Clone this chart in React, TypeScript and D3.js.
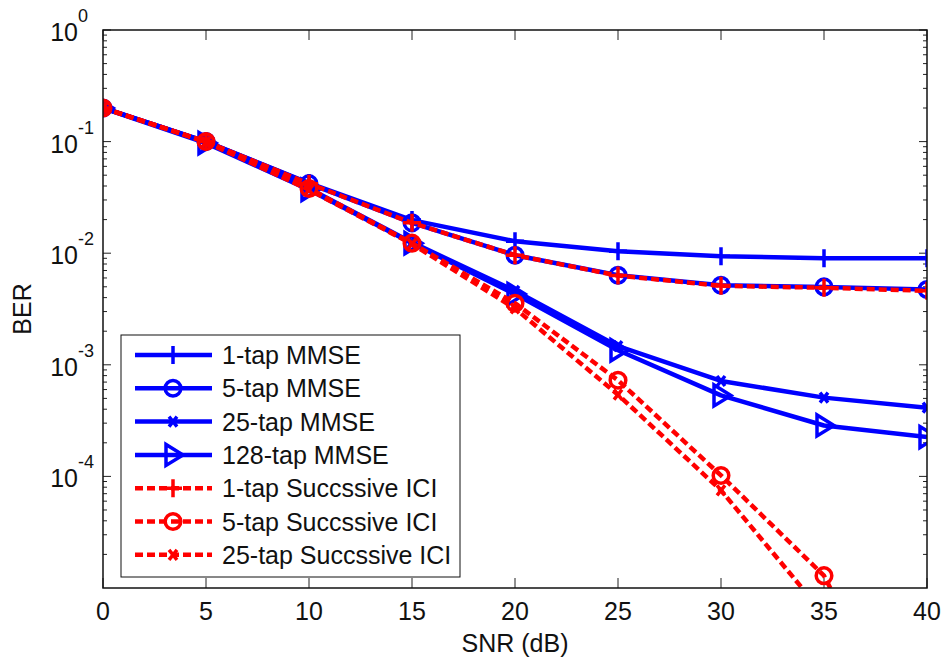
import React from 'react';
import * as d3 from 'd3';

const snr = [0, 5, 10, 15, 20, 25, 30, 35, 40];
const xTicks = [0, 5, 10, 15, 20, 25, 30, 35, 40];
const yExponents = [0, -1, -2, -3, -4];

const mmse1 = [0.2, 0.1, 0.0425, 0.0198, 0.0128, 0.0104, 0.0094, 0.009, 0.009];
const mmse5 = [0.2, 0.1, 0.042, 0.0187, 0.0096, 0.00635, 0.00516, 0.00499, 0.00472];
const mmse25 = [0.2, 0.099, 0.038, 0.0125, 0.0046, 0.00147, 0.000716, 0.000508, 0.000413];
const mmse128 = [0.2, 0.097, 0.037, 0.0123, 0.0043, 0.00135, 0.000532, 0.000286, 0.000225];
const sic1 = [0.2, 0.1, 0.042, 0.0187, 0.0096, 0.0063, 0.0051, 0.0049, 0.0046];
const sic5 = [0.2, 0.1, 0.038, 0.0123, 0.00356, 0.000726, 0.000102, 0.0000129, 0.0000002];
const sic25 = [0.2, 0.099, 0.037, 0.0121, 0.0032, 0.00054, 0.000075, 0.0000058, 0.0000001];

const series = [
  { name: '1-tap MMSE', values: mmse1, color: '#0000ff', dashed: false, marker: 'plus' },
  { name: '5-tap MMSE', values: mmse5, color: '#0000ff', dashed: false, marker: 'circle' },
  { name: '25-tap MMSE', values: mmse25, color: '#0000ff', dashed: false, marker: 'x' },
  { name: '128-tap MMSE', values: mmse128, color: '#0000ff', dashed: false, marker: 'triangle' },
  { name: '1-tap Succssive ICI', values: sic1, color: '#ff0000', dashed: true, marker: 'plus' },
  { name: '5-tap Succssive ICI', values: sic5, color: '#ff0000', dashed: true, marker: 'circle' },
  { name: '25-tap Succssive ICI', values: sic25, color: '#ff0000', dashed: true, marker: 'x' },
];

const W = 944;
const H = 661;
const margin = { left: 103, right: 17, top: 30, bottom: 73 };
const font = '"Liberation Sans", Arial, sans-serif';

const Marker = ({ type, x, y, color }: { type: string; x: number; y: number; color: string }) => {
  const sw = 3.5;
  if (type === 'plus') {
    return (
      <path d={`M${x - 9},${y}H${x + 9}M${x},${y - 9}V${y + 9}`} stroke={color} strokeWidth={sw} fill="none" />
    );
  }
  if (type === 'circle') {
    return <circle cx={x} cy={y} r={7.8} stroke={color} strokeWidth={sw} fill="none" />;
  }
  if (type === 'x') {
    return (
      <path d={`M${x - 4},${y - 5}L${x + 4},${y + 5}M${x - 4},${y + 5}L${x + 4},${y - 5}`} stroke={color} strokeWidth={sw} fill="none" />
    );
  }
  return (
    <path d={`M${x + 10},${y}L${x - 7},${y - 10.5}L${x - 7},${y + 10.5}Z`} stroke={color} strokeWidth={sw} fill="none" strokeLinejoin="miter" />
  );
};

export default function App() {
  const x = d3.scaleLinear().domain([0, 40]).range([margin.left, W - margin.right]);
  const y = d3.scaleLog().domain([1e-5, 1]).range([H - margin.bottom, margin.top]);
  const [x0, x1] = x.range();
  const [yb, yt] = y.range();

  const line = d3.line<number>().x((_, i) => x(snr[i])).y((d) => y(d));

  const minor: number[] = [];
  for (let k = -5; k < 0; k++) for (let m = 2; m <= 9; m++) minor.push(m * Math.pow(10, k));

  const legX = 121;
  const legY = 335;
  const rowH = 33.3;

  return (
    <svg width={W} height={H} style={{ position: 'absolute', left: 0, top: 0, background: '#fff' }} fontFamily={font}>
      <defs>
        <clipPath id="plot">
          <rect x={x0} y={yt} width={x1 - x0} height={yb - yt} />
        </clipPath>
      </defs>
      <rect x={0} y={0} width={W} height={H} fill="#fff" />

      {/* ticks */}
      <g stroke="#222" strokeWidth={1}>
        {xTicks.map((t) => (
          <g key={'xt' + t}>
            <line x1={x(t)} x2={x(t)} y1={yb} y2={yb - 10} />
            <line x1={x(t)} x2={x(t)} y1={yt} y2={yt + 10} />
          </g>
        ))}
        {yExponents.map((e) => (
          <g key={'yt' + e}>
            <line x1={x0} x2={x0 + 8} y1={y(Math.pow(10, e))} y2={y(Math.pow(10, e))} />
            <line x1={x1} x2={x1 - 8} y1={y(Math.pow(10, e))} y2={y(Math.pow(10, e))} />
          </g>
        ))}
        {minor.map((v) => (
          <g key={'ym' + v}>
            <line x1={x0} x2={x0 + 4} y1={y(v)} y2={y(v)} />
            <line x1={x1} x2={x1 - 4} y1={y(v)} y2={y(v)} />
          </g>
        ))}
      </g>

      {/* data */}
      <g clipPath="url(#plot)">
        {series.map((s) => (
          <g key={s.name}>
            <path
              d={line(s.values) || ''}
              fill="none"
              stroke={s.color}
              strokeWidth={4.5}
              strokeDasharray={s.dashed ? '8,4' : undefined}
              strokeLinejoin="round"
            />
            {s.values.map((v, i) =>
              v >= 1e-5 ? <Marker key={i} type={s.marker} x={x(snr[i])} y={y(v)} color={s.color} /> : null
            )}
          </g>
        ))}
      </g>

      {/* axes box */}
      <rect x={x0} y={yt} width={x1 - x0} height={yb - yt} fill="none" stroke="#111" strokeWidth={1.5} />

      {/* tick labels */}
      {xTicks.map((t) => (
        <text key={'xl' + t} x={x(t)} y={620} fontSize={25} textAnchor="middle" fill="#111">
          {t}
        </text>
      ))}
      {yExponents.map((e) => (
        <g key={'yl' + e}>
          <text x={78} y={y(Math.pow(10, e)) + 11} fontSize={25} textAnchor="end" fill="#111">
            10
          </text>
          <text x={78} y={y(Math.pow(10, e)) - 8} fontSize={18} fill="#111">
            {e}
          </text>
        </g>
      ))}

      <text x={(x0 + x1) / 2} y={652} fontSize={25} textAnchor="middle" fill="#111">
        SNR (dB)
      </text>
      <text transform={`translate(31,${(yt + yb) / 2}) rotate(-90)`} fontSize={25} textAnchor="middle" fill="#111">
        BER
      </text>

      {/* legend */}
      <rect x={legX} y={legY} width={339} height={242} fill="#fff" stroke="#111" strokeWidth={1} />
      {series.map((s, i) => {
        const cy = legY + 20 + i * rowH;
        return (
          <g key={'lg' + s.name}>
            <line
              x1={135}
              x2={212}
              y1={cy}
              y2={cy}
              stroke={s.color}
              strokeWidth={4.5}
              strokeDasharray={s.dashed ? '8,4' : undefined}
            />
            <Marker type={s.marker} x={173} y={cy} color={s.color} />
            <text x={222} y={cy + 9} fontSize={25} fill="#111">
              {s.name}
            </text>
          </g>
        );
      })}
    </svg>
  );
}
